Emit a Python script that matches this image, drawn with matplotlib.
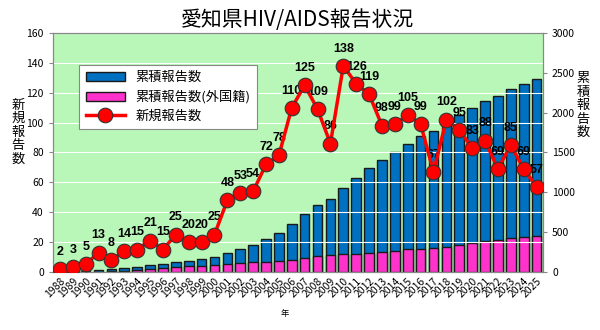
import matplotlib
matplotlib.use("Agg")
import matplotlib.pyplot as plt
import numpy as np

plt.rcParams['font.family'] = ['Noto Sans CJK JP', 'DejaVu Sans']

# 年
years = [str(y) for y in range(1988, 2026)]

# 新規報告数
new_reports = [2, 3, 5, 13, 8, 14, 15, 21, 15, 25, 20, 20, 25, 48, 53, 54, 72, 78,
               110, 125, 109, 86, 138, 126, 119, 98, 99, 105, 99, 67, 102, 95, 83,
               88, 69, 85, 69, 57]

# 累積報告数
cumulative = [2, 5, 10, 23, 31, 45, 60, 81, 96, 121, 141, 161, 186, 234, 287, 341,
              413, 491, 601, 726, 835, 921, 1059, 1185, 1304, 1402, 1501, 1606,
              1705, 1772, 1874, 1969, 2052, 2140, 2209, 2294, 2363, 2420]

# 累積報告数(外国籍)
cumulative_foreign = [0, 0, 0, 2, 8, 15, 25, 40, 48, 60, 70, 80, 88, 100, 110, 120,
                      130, 140, 150, 175, 195, 210, 222, 228, 240, 252, 268, 285,
                      292, 300, 318, 338, 362, 382, 400, 420, 440, 455]

x = np.arange(len(years))

fig = plt.figure(figsize=(6, 3.3), dpi=100)
ax = fig.add_axes([0.088, 0.176, 0.817, 0.724])
ax2 = ax.twinx()

# 棒グラフは右軸
ax2.bar(x, cumulative, width=0.75, color='#0070c0', edgecolor='#1a1a1a',
        linewidth=1.0, label='累積報告数', zorder=2)
ax2.bar(x, cumulative_foreign, width=0.75, color='#ff33cc', edgecolor='#1a1a1a',
        linewidth=1.0, label='累積報告数(外国籍)', zorder=3)
ax2.set_ylim(0, 3000)
ax2.set_yticks(range(0, 3001, 500))

# 折れ線は左軸 (前面に出す)
ax.set_zorder(ax2.get_zorder() + 1)
ax.patch.set_visible(False)
ax2.patch.set_visible(True)
ax2.patch.set_facecolor('#b8f7b8')

ax.plot(x, new_reports, color='#ff0000', lw=2.5, marker='o', ms=10.5,
        markerfacecolor='#ff0000', markeredgecolor='#333333', markeredgewidth=0.8,
        label='新規報告数', zorder=5)
for xi, v in zip(x, new_reports):
    ax.annotate(str(v), (xi, v), xytext=(0, 8), textcoords='offset points',
                ha='center', va='bottom', fontsize=9, fontweight='bold',
                family=['Liberation Sans Narrow', 'Liberation Sans', 'DejaVu Sans'])

ax.set_ylim(0, 160)
ax.set_yticks(range(0, 161, 20))
ax.set_xlim(-0.55, len(years) - 0.5)
ax.set_xticks(x)
ax.set_xticklabels(years, rotation=45, ha='right', rotation_mode='anchor', fontsize=7.5)
ax.grid(axis='y', color='white', lw=0.8)
ax2.grid(False)

for a in (ax, ax2):
    for s in a.spines.values():
        s.set_color('#888888')
    a.tick_params(axis='y', labelsize=7.5, length=3, color='#888888')
    a.tick_params(axis='x', length=0, pad=3)

ax.set_title('愛知県HIV/AIDS報告状況', fontsize=15, pad=5)

fig.text(0.03, 0.60, '新\n規\n報\n告\n数', fontsize=9.5, ha='center', va='center',
         linespacing=1.05)
fig.text(0.972, 0.68, '累\n積\n報\n告\n数', fontsize=9.5, ha='center', va='center',
         linespacing=1.05)
fig.text(0.475, 0.05, '年', fontsize=6, ha='center', va='center')

h1, l1 = ax2.get_legend_handles_labels()
h2, l2 = ax.get_legend_handles_labels()
leg = ax.legend(h1 + h2, l1 + l2, loc='upper left', bbox_to_anchor=(0.04, 0.895),
                fontsize=9.5, frameon=True, fancybox=False, edgecolor='#888888',
                framealpha=1, handlelength=3, labelspacing=0.45, borderpad=0.5)
leg.get_frame().set_linewidth(0.8)

fig.savefig('out.png', dpi=100)
